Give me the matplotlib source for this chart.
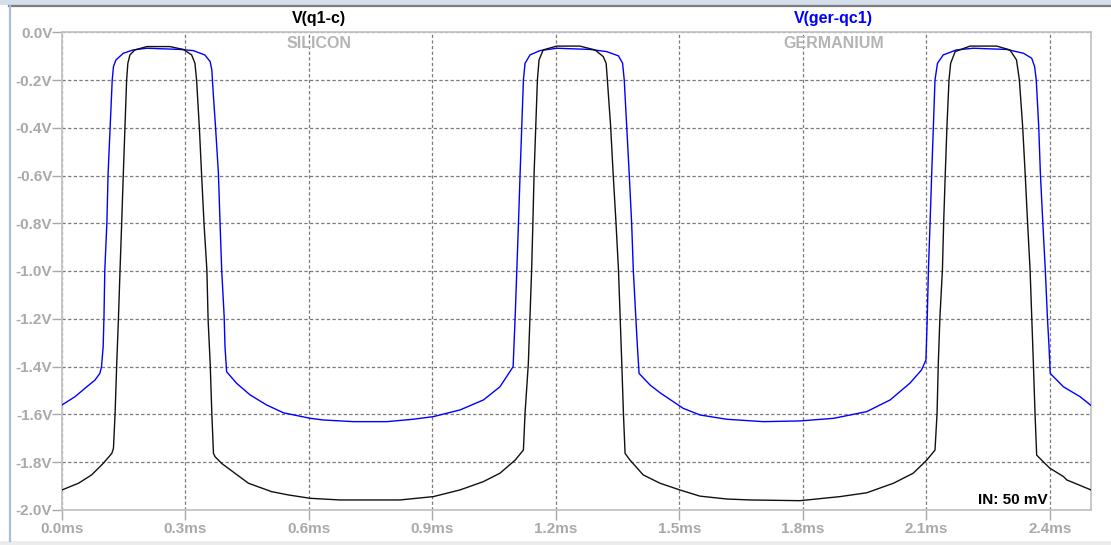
import matplotlib
matplotlib.use("Agg")
import matplotlib.pyplot as plt
from matplotlib.lines import Line2D
from matplotlib.patches import Rectangle

# ---- waveform data (time in ms, voltage in V) ----
t_silicon = [
    0.000, 0.040, 0.072, 0.100, 0.121, 0.125, 0.129, 0.133, 0.137, 0.141,
    0.145, 0.149, 0.153, 0.157, 0.160, 0.165, 0.177, 0.206, 0.262, 0.295,
    0.315, 0.323, 0.327, 0.334, 0.339, 0.345, 0.352, 0.355, 0.360, 0.364,
    0.368, 0.372, 0.388, 0.420, 0.453, 0.509, 0.550, 0.603, 0.675, 0.821,
    0.902, 0.967, 1.024, 1.064, 1.101, 1.121, 1.125, 1.133, 1.137, 1.141,
    1.144, 1.147, 1.151, 1.155, 1.159, 1.169, 1.202, 1.258, 1.295, 1.315,
    1.322, 1.325, 1.333, 1.339, 1.346, 1.352, 1.356, 1.360, 1.364, 1.368,
    1.380, 1.412, 1.453, 1.501, 1.550, 1.615, 1.672, 1.793, 1.890, 1.955,
    2.020, 2.068, 2.101, 2.121, 2.126, 2.129, 2.133, 2.139, 2.142, 2.146,
    2.150, 2.155, 2.159, 2.170, 2.206, 2.271, 2.303, 2.319, 2.326, 2.334,
    2.340, 2.346, 2.352, 2.356, 2.360, 2.364, 2.368, 2.384, 2.400, 2.433,
    2.441, 2.500,
]
v_silicon = [
    -1.917, -1.889, -1.854, -1.806, -1.764, -1.743, -1.596, -1.387, -1.205, -0.996,
    -0.800, -0.591, -0.396, -0.200, -0.130, -0.095, -0.074, -0.060, -0.060, -0.072,
    -0.095, -0.130, -0.200, -0.409, -0.591, -0.800, -0.996, -1.205, -1.387, -1.596,
    -1.764, -1.778, -1.806, -1.847, -1.889, -1.924, -1.938, -1.952, -1.959, -1.959,
    -1.945, -1.917, -1.882, -1.847, -1.792, -1.750, -1.596, -1.387, -1.191, -0.996,
    -0.800, -0.591, -0.396, -0.200, -0.116, -0.074, -0.058, -0.058, -0.074, -0.102,
    -0.130, -0.200, -0.396, -0.591, -0.800, -0.996, -1.191, -1.387, -1.596, -1.764,
    -1.792, -1.854, -1.889, -1.917, -1.943, -1.955, -1.959, -1.962, -1.945, -1.929,
    -1.889, -1.847, -1.792, -1.750, -1.596, -1.387, -1.191, -0.996, -0.800, -0.591,
    -0.396, -0.200, -0.130, -0.081, -0.058, -0.058, -0.074, -0.116, -0.200, -0.396,
    -0.591, -0.800, -0.996, -1.191, -1.387, -1.596, -1.771, -1.799, -1.826, -1.861,
    -1.875, -1.917,
]

t_germanium = [
    0.000, 0.032, 0.056, 0.080, 0.092, 0.096, 0.100, 0.102, 0.104, 0.109,
    0.112, 0.117, 0.122, 0.125, 0.131, 0.149, 0.173, 0.206, 0.287, 0.319,
    0.347, 0.360, 0.364, 0.368, 0.373, 0.380, 0.384, 0.388, 0.394, 0.396,
    0.400, 0.424, 0.457, 0.497, 0.538, 0.603, 0.635, 0.708, 0.789, 0.853,
    0.902, 0.967, 1.024, 1.064, 1.096, 1.101, 1.105, 1.109, 1.113, 1.117,
    1.121, 1.125, 1.137, 1.161, 1.202, 1.283, 1.323, 1.352, 1.362, 1.366,
    1.372, 1.378, 1.384, 1.388, 1.394, 1.398, 1.402, 1.429, 1.453, 1.509,
    1.550, 1.615, 1.704, 1.793, 1.875, 1.955, 2.012, 2.060, 2.088, 2.099,
    2.102, 2.105, 2.109, 2.113, 2.117, 2.121, 2.127, 2.141, 2.173, 2.214,
    2.295, 2.336, 2.356, 2.363, 2.367, 2.373, 2.377, 2.383, 2.389, 2.394,
    2.398, 2.401, 2.433, 2.473, 2.500,
]
v_germanium = [
    -1.561, -1.526, -1.491, -1.457, -1.429, -1.401, -1.317, -1.191, -0.996, -0.800,
    -0.591, -0.396, -0.200, -0.144, -0.116, -0.088, -0.074, -0.067, -0.072, -0.077,
    -0.095, -0.123, -0.158, -0.270, -0.396, -0.591, -0.800, -0.996, -1.191, -1.317,
    -1.422, -1.470, -1.519, -1.561, -1.594, -1.617, -1.624, -1.631, -1.631, -1.621,
    -1.610, -1.582, -1.540, -1.485, -1.401, -1.191, -0.996, -0.800, -0.591, -0.396,
    -0.200, -0.130, -0.095, -0.077, -0.067, -0.072, -0.081, -0.099, -0.130, -0.200,
    -0.396, -0.591, -0.800, -0.996, -1.191, -1.317, -1.429, -1.478, -1.510, -1.575,
    -1.603, -1.621, -1.631, -1.628, -1.617, -1.589, -1.540, -1.470, -1.415, -1.373,
    -1.205, -0.996, -0.800, -0.591, -0.396, -0.200, -0.130, -0.095, -0.074, -0.067,
    -0.072, -0.088, -0.109, -0.144, -0.200, -0.396, -0.591, -0.800, -0.996, -1.191,
    -1.317, -1.429, -1.485, -1.526, -1.563,
]

x_ticks = [0.0, 0.3, 0.6, 0.9, 1.2, 1.5, 1.8, 2.1, 2.4]
x_tick_labels = ["0.0ms", "0.3ms", "0.6ms", "0.9ms", "1.2ms", "1.5ms", "1.8ms", "2.1ms", "2.4ms"]
y_ticks = [0.0, -0.2, -0.4, -0.6, -0.8, -1.0, -1.2, -1.4, -1.6, -1.8, -2.0]
y_tick_labels = ["0.0V", "-0.2V", "-0.4V", "-0.6V", "-0.8V", "-1.0V", "-1.2V",
                 "-1.4V", "-1.6V", "-1.8V", "-2.0V"]

trace_names = ["V(q1-c)", "V(ger-qc1)"]
trace_notes = ["SILICON", "GERMANIUM"]
input_note = "IN: 50 mV"

# ---- figure ----
W, H = 1111, 545
plt.rcParams["font.family"] = ["Liberation Sans", "DejaVu Sans"]
fig = plt.figure(figsize=(W / 100, H / 100), dpi=100)
fig.patch.set_facecolor("white")

left, right, top, bottom = 62, 1091, 32.25, 509.75
ax = fig.add_axes([left / W, 1 - bottom / H, (right - left) / W, (bottom - top) / H])
ax.set_facecolor("white")

ax.plot(t_germanium, v_germanium, color="#0000ff", lw=1.0, zorder=3)
ax.plot(t_silicon, v_silicon, color="#111111", lw=1.0, zorder=4)

ax.set_xlim(0, 2.5)
ax.set_ylim(-2.0, 0.0)
ax.set_xticks(x_ticks)
ax.set_xticklabels(x_tick_labels)
ax.set_yticks(y_ticks)
ax.set_yticklabels(y_tick_labels)

tick_color = "#a9a9a9"
ax.tick_params(axis="y", direction="out", length=7, width=1.0, color=tick_color,
               pad=0, labelsize=11, labelcolor=tick_color)
ax.tick_params(axis="x", direction="out", length=7, width=1.0, color=tick_color,
               pad=2, labelsize=11, labelcolor=tick_color)
for lbl in ax.get_xticklabels() + ax.get_yticklabels():
    lbl.set_fontweight("bold")

ax.grid(True, color="#7a7a7a", linestyle=(0, (2.6, 1.9)), linewidth=0.9)
for sp in ax.spines.values():
    sp.set_color("#c4c4c4")
    sp.set_linewidth(1.3)

# trace headers
ax.text(0.25, 1.0 + 13.5 / (bottom - top), trace_names[0], transform=ax.transAxes,
        ha="center", va="center", fontsize=11.5, fontweight="bold", color="black")
ax.text(0.75, 1.0 + 13.5 / (bottom - top), trace_names[1], transform=ax.transAxes,
        ha="center", va="center", fontsize=11.5, fontweight="bold", color="#0000ff")
ax.text(0.25, 1.0 - 11 / (bottom - top), trace_notes[0], transform=ax.transAxes,
        ha="center", va="center", fontsize=11.5, fontweight="bold", color="#b4b4b4",
        zorder=6)
ax.text(0.75, 1.0 - 11 / (bottom - top), trace_notes[1], transform=ax.transAxes,
        ha="center", va="center", fontsize=11.5, fontweight="bold", color="#b4b4b4",
        zorder=6)
ax.text((1048 - left) / (right - left), (bottom - 500) / (bottom - top), input_note,
        transform=ax.transAxes, ha="right", va="center", fontsize=11,
        fontweight="bold", color="black", zorder=6)

# window frame
fig.add_artist(Rectangle((0, 1 - 5 / H), 1, 5 / H, transform=fig.transFigure,
                         facecolor="#d3dfeb", edgecolor="none"))
fig.add_artist(Line2D([9 / W, 1], [1 - 6 / H, 1 - 6 / H], transform=fig.transFigure,
                      color="#7d7d7d", lw=1.6))
fig.add_artist(Line2D([10 / W, 10 / W], [1 - 6 / H, 1 - 541 / H], transform=fig.transFigure,
                      color="#a9bdd3", lw=1.6))
fig.add_artist(Rectangle((0, 0), 1, 4 / H, transform=fig.transFigure,
                         facecolor="#ececec", edgecolor="none"))

fig.savefig("out.png", dpi=100, facecolor="white")
